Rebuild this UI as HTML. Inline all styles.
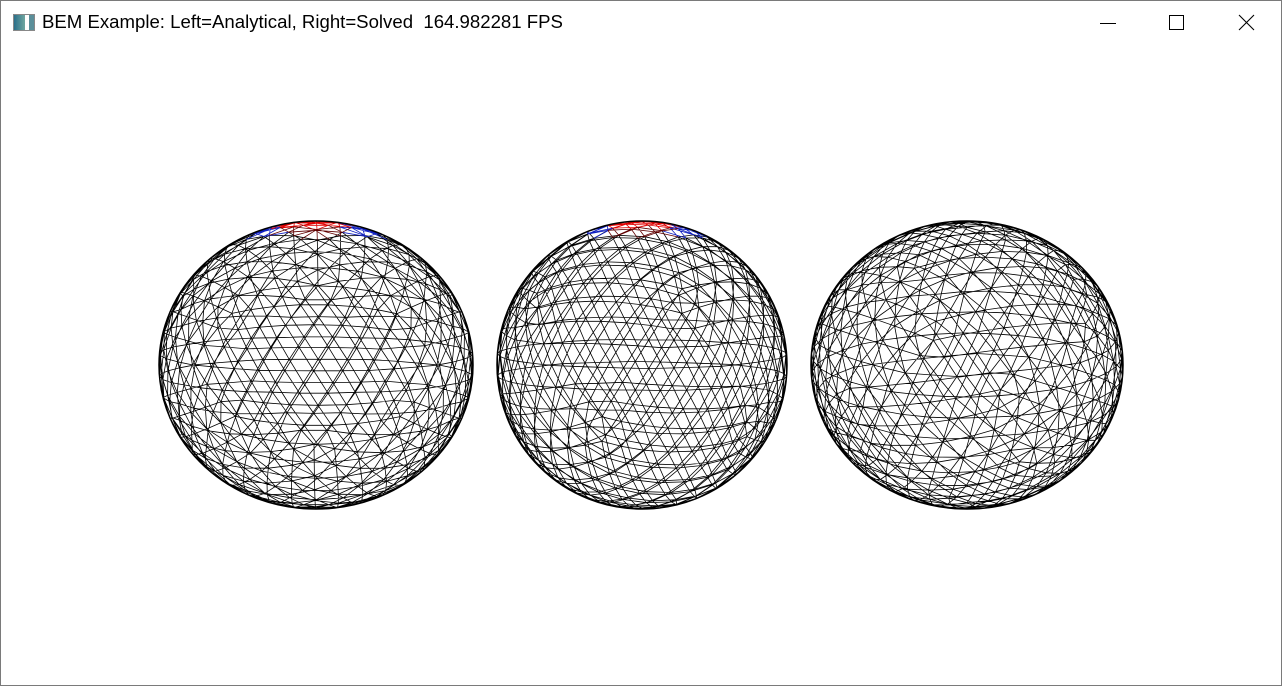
<!DOCTYPE html>
<html><head><meta charset="utf-8">
<style>
html,body{margin:0;padding:0;width:1282px;height:686px;overflow:hidden;background:#fff;font-family:"Segoe UI","Liberation Sans","Noto Sans CJK SC",sans-serif;}
#win{position:absolute;left:0;top:0;width:1280px;height:684px;border:1px solid #7a7a7a;background:#fff;}
#title{position:absolute;left:41px;top:10px;font-size:18.6px;color:#000;white-space:nowrap;}
#icon{position:absolute;left:12px;top:13px;width:20px;height:15px;border:1px solid #888;background:linear-gradient(90deg,#2b6f8a 0,#6fa7a0 55%,#fff 56%,#fff 75%,#5b8f9a 76%);}
.ctl{position:absolute;top:8px;width:30px;height:28px;}
svg{position:absolute;left:0;top:0;}
</style></head><body>
<div id="win">
<div id="icon"></div>
<div id="title">BEM Example: Left=Analytical, Right=Solved&nbsp; 164.982281 FPS</div>
<svg class="ctl" style="left:1092px" viewBox="0 0 30 28"><line x1="7" y1="14.5" x2="23" y2="14.5" stroke="#000" stroke-width="1"/></svg>
<svg class="ctl" style="left:1160px" viewBox="0 0 30 28"><rect x="8.5" y="6.5" width="14" height="14" fill="none" stroke="#000" stroke-width="1"/></svg>
<svg class="ctl" style="left:1230px" viewBox="0 0 30 28"><path d="M8 6 L23 21 M23 6 L8 21" stroke="#000" stroke-width="1.1"/></svg>
<svg id="scene" width="1282" height="686"></svg>
</div>
<script>
const sphereCx=[315,641,966];
const sphereCy=[364,364,364];
const sphereRx=[157,145,156];
const sphereRy=[144,144,144];
const sphereFreq=[7,7,7];
const sphereRotY=[0.3,0.0,0.7];
const sphereRotX=[0.12,0.1,0.3];
const sphereColored=[true,true,false];

function icosphere(n){
  const t=(1+Math.sqrt(5))/2;
  let V=[[-1,t,0],[1,t,0],[-1,-t,0],[1,-t,0],[0,-1,t],[0,1,t],[0,-1,-t],[0,1,-t],[t,0,-1],[t,0,1],[-t,0,-1],[-t,0,1]];
  const F=[[0,11,5],[0,5,1],[0,1,7],[0,7,10],[0,10,11],[1,5,9],[5,11,4],[11,10,2],[10,7,6],[7,1,8],[3,9,4],[3,4,2],[3,2,6],[3,6,8],[3,8,9],[4,9,5],[2,4,11],[6,2,10],[8,6,7],[9,8,1]];
  const edges=[];
  const norm=p=>{const l=Math.hypot(p[0],p[1],p[2]);return[p[0]/l,p[1]/l,p[2]/l];};
  F.forEach(f=>{
    const A=V[f[0]],B=V[f[1]],C=V[f[2]];
    const P=(i,j)=>{const k=n-i-j;return norm([(A[0]*k+B[0]*i+C[0]*j)/n,(A[1]*k+B[1]*i+C[1]*j)/n,(A[2]*k+B[2]*i+C[2]*j)/n]);};
    for(let i=0;i<n;i++)for(let j=0;j<n-i;j++){
      const a=P(i,j),b=P(i+1,j),c=P(i,j+1);
      edges.push([a,b],[b,c],[c,a]);
      if(i+j<n-1){const d=P(i+1,j+1);edges.push([b,d],[d,c]);}
    }
  });
  return edges;
}
const svg=document.getElementById('scene');
const NS='http://www.w3.org/2000/svg';
sphereCx.forEach((cx,s)=>{
  const edges=icosphere(sphereFreq[s]);
  const t=(1+Math.sqrt(5))/2;
  const ang=Math.atan2(1,t);
  const ry=sphereRotY[s], rx=sphereRotX[s];
  const tr=p=>{
    let [x,y,z]=p;
    let x1=x*Math.cos(-ang)-y*Math.sin(-ang), y1=x*Math.sin(-ang)+y*Math.cos(-ang);
    x=x1;y=y1;
    let x2=x*Math.cos(ry)+z*Math.sin(ry), z2=-x*Math.sin(ry)+z*Math.cos(ry);
    x=x2;z=z2;
    let y3=y*Math.cos(rx)-z*Math.sin(rx), z3=y*Math.sin(rx)+z*Math.cos(rx);
    return [x,y3,z3];
  };
  const groups={black:'',red:'',blue:'',dark:''};
  edges.forEach(e=>{
    const a=tr(e[0]),b=tr(e[1]);
    const ym=(a[1]+b[1])/2;
    let g='black';
    if(sphereColored[s]&&ym>0.9){ g = Math.abs((a[0]+b[0])/2)<0.22?'red':'blue'; if(ym<0.95&&g==='red')g='dark'; }
    groups[g]+=`M${(cx+a[0]*sphereRx[s]).toFixed(1)} ${(sphereCy[s]-a[1]*sphereRy[s]).toFixed(1)}L${(cx+b[0]*sphereRx[s]).toFixed(1)} ${(sphereCy[s]-b[1]*sphereRy[s]).toFixed(1)}`;
  });
  const cols={black:'#000',red:'#e00000',blue:'#1020c0',dark:'#600000'};
  Object.keys(groups).forEach(k=>{
    if(!groups[k])return;
    const p=document.createElementNS(NS,'path');
    p.setAttribute('d',groups[k]);
    p.setAttribute('stroke',cols[k]);
    p.setAttribute('stroke-width','0.8');
    p.setAttribute('fill','none');
    
    
    svg.appendChild(p);
  });
  const o=document.createElementNS(NS,'ellipse');
  o.setAttribute('cx',cx);o.setAttribute('cy',sphereCy[s]);o.setAttribute('rx',sphereRx[s]);o.setAttribute('ry',sphereRy[s]);
  o.setAttribute('fill','none');o.setAttribute('stroke','#000');o.setAttribute('stroke-width','1.5');
  
  
  svg.appendChild(o);
});
</script>
</body></html>
